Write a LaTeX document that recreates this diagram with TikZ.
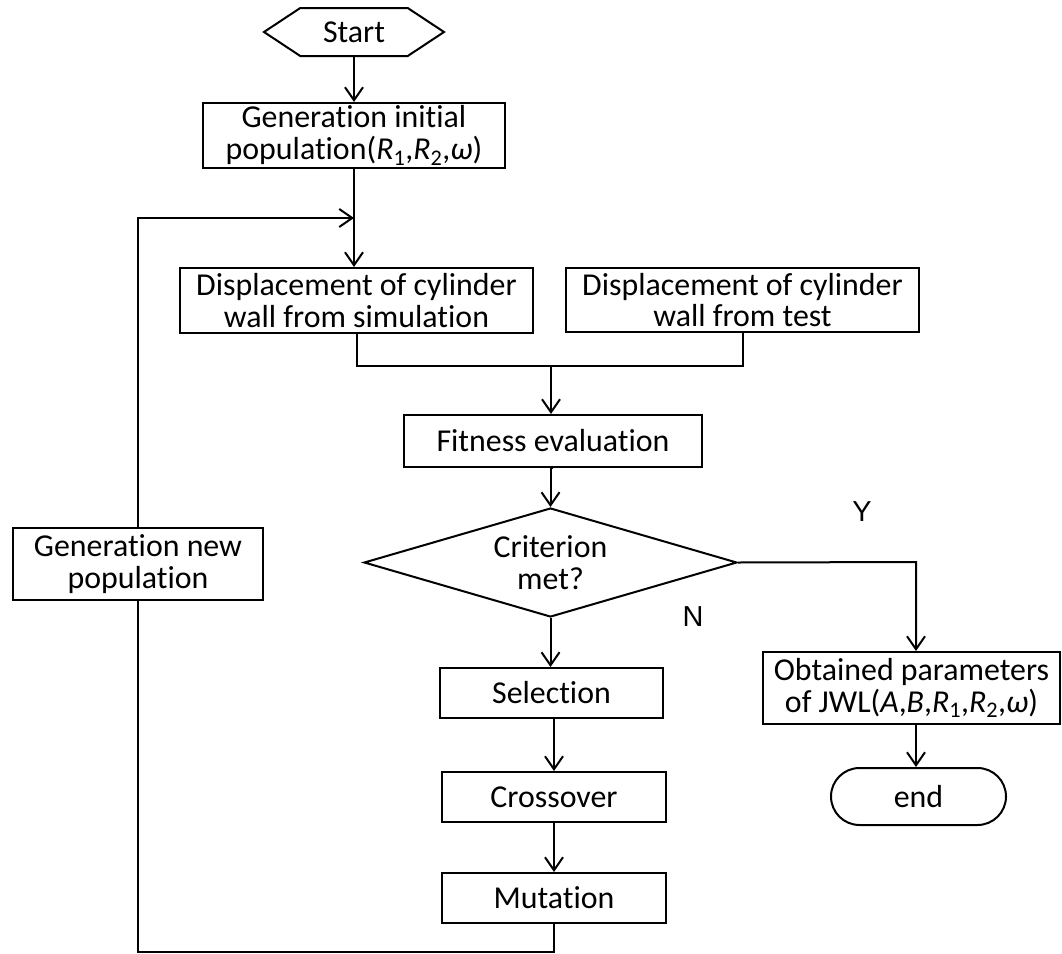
\documentclass[tikz,border=0pt]{standalone}
\usepackage{fontspec}
\setmainfont{Carlito}[Ligatures=NoCommon]
\newfontfamily\labelfont{Liberation Sans}
\usepackage{tikz}
\usetikzlibrary{arrows.meta,shapes.geometric,shapes.misc,shapes.symbols}

\newcommand{\ivar}[1]{\textit{#1}}
\newcommand{\isub}[2]{\textit{#1}\textsubscript{#2}}

\begin{document}
\begin{tikzpicture}[
    x=1bp,y=-1bp,>={Straight Barb[length=13bp,width=18bp]},
    line width=2bp,
    every node/.style={font=\fontsize{32}{32}\selectfont},
    flow box/.style={draw,rectangle,align=center,inner sep=0pt},
    flow arrow/.style={->,line width=2bp},
    flow line/.style={line width=2bp},
    yn label/.style={font=\labelfont\fontsize{29}{29}\selectfont}
  ]
    \useasboundingbox (0,0) rectangle (1062,954);
    \node[draw,signal,signal to=west and east,signal pointer angle=67,
      minimum width=180bp,minimum height=48bp,inner sep=0pt] (start) at (354,32) {Start};
    \node[flow box,minimum width=302bp,minimum height=65bp] (init) at (354,135.5)
      {Generation initial\\population(\isub{R}{1},\isub{R}{2},\ivar{ω})};
    \node[flow box,minimum width=353bp,minimum height=65bp] (sim) at (356.5,300.5)
      {Displacement of cylinder\\wall from simulation};
    \node[flow box,minimum width=353bp,minimum height=64bp] (test) at (742.5,300)
      {Displacement of cylinder\\wall from test};
    \node[flow box,minimum width=298bp,minimum height=52bp] (fit) at (553,441) {Fitness evaluation};
    \node[draw,diamond,aspect=3.4,align=center,inner sep=0pt,
      minimum width=373bp,minimum height=109bp] (crit) at (550.5,562.5) {Criterion\\met?};
    \node[flow box,minimum width=250bp,minimum height=72bp] (newpop) at (138,564)
      {Generation new\\population};
    \node[flow box,minimum width=223bp,minimum height=50bp] (sel) at (551.5,693) {Selection};
    \node[flow box,minimum width=224bp,minimum height=50bp] (cross) at (554,797) {Crossover};
    \node[flow box,minimum width=224bp,minimum height=50bp] (mut) at (554,898) {Mutation};
    \node[flow box,minimum width=297bp,minimum height=72bp] (obt) at (911.5,688)
      {Obtained parameters\\of JWL(\ivar{A},\ivar{B},\isub{R}{1},\isub{R}{2},\ivar{ω})};
    \node[draw,rounded rectangle,minimum width=175bp,minimum height=57bp,
      inner sep=0pt] (end) at (918.5,796.5) {end};
    \node[yn label] (ylab) at (862,512) {Y};
    \node[yn label] (nlab) at (693,617) {N};
    \coordinate (join) at (354,218);
    \coordinate (merge) at (551,366);
    \coordinate (ycorner) at (916,562);
    \coordinate (loopbot) at (554,952);
    % main path
    \draw[flow arrow] (start.south) -- (start.south |- init.north);
    \draw[flow arrow] (init.south) -- (init.south |- sim.north);
    \draw[flow line] (sim.south) |- (merge) -| (test.south);
    \draw[flow arrow] (merge) -- (merge |- fit.north);
    \draw[flow arrow] (fit.south) -- (fit.south -| crit.north) -- (crit.north);
    \draw[flow arrow] (crit.south) -- (crit.south |- sel.north);
    \draw[flow arrow] (cross.north |- sel.south) -- (cross.north);
    \draw[flow arrow] (cross.south) -- (mut.north);
    % yes branch
    \draw[flow arrow] (crit.east) -- (ycorner) -- (ycorner |- obt.north);
    \draw[flow arrow] (ycorner |- obt.south) -- (ycorner |- end.north);
    % loop back
    \draw[flow line] (mut.south) -- (loopbot) -| (newpop.south);
    \draw[flow arrow] (newpop.north) |- (join);
  \end{tikzpicture}
\end{document}
